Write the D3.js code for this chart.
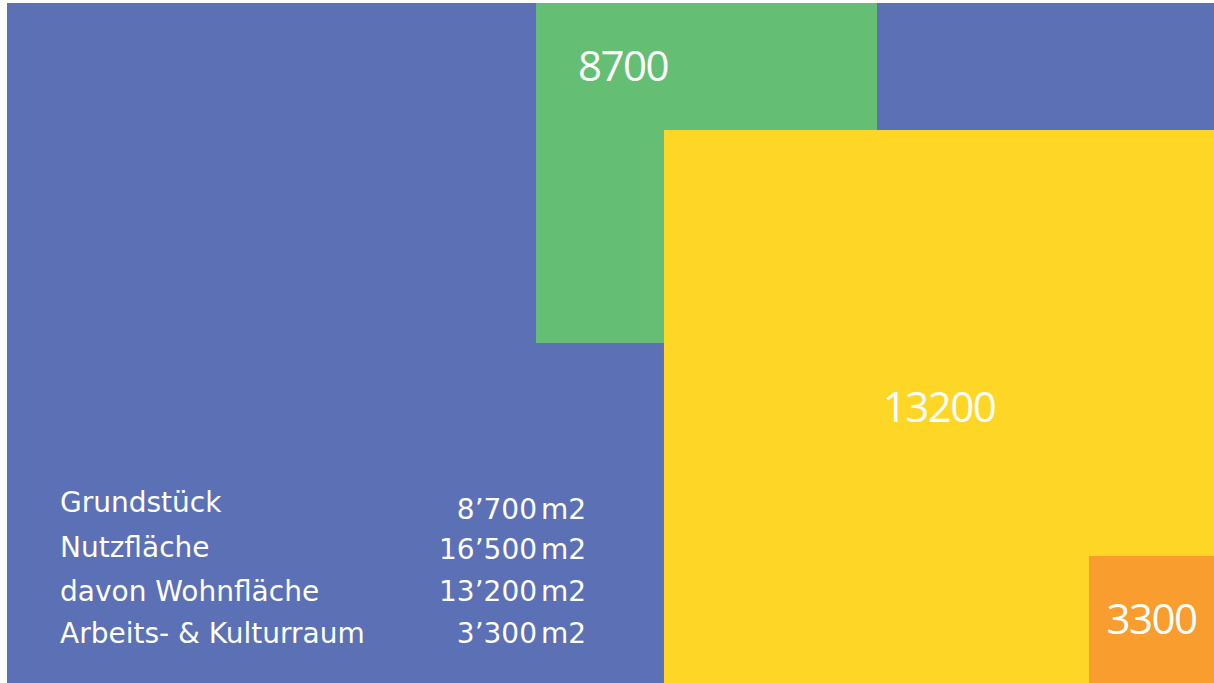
<!DOCTYPE html>
<html lang="de">
<head>
<meta charset="UTF-8">
<title>Flächen</title>
<script src="https://d3js.org/d3.v7.min.js"></script>
<style>
    body { margin: 0; background: #fff; }
    .legend text { font-family: "DejaVu Sans", sans-serif; font-size: 28px; fill: #fff; }
    .legend .val { word-spacing: -5px; }
    .blocklabel { font-family: "Open Sans", sans-serif; font-size: 42px; fill: #fff; letter-spacing: -1.5px; }
</style>
</head>
<body>
<svg width="1214" height="683"></svg>
<script>
// data
var areaNames = ["Grundstück", "Nutzfläche", "davon Wohnfläche", "Arbeits- & Kulturraum"];
var areaValues = [8700, 16500, 13200, 3300];

// which areas are drawn as blocks (back to front), and which show their number
var blockNames = ["Nutzfläche", "Grundstück", "davon Wohnfläche", "Arbeits- & Kulturraum"];
var blockColors = ["#5c70b5", "#64be74", "#fed726", "#f99d2e"];
var blockShowLabel = [false, true, true, true];

// block frames in percent of the drawing area
var blockFrames = [
    [0, 100, 0, 100],
    [43.83, 72.08, 0, 50],
    [54.43, 100, 18.68, 100],
    [89.64, 100, 81.32, 100]
];

var svg = d3.select("svg"),
    width = +svg.attr("width"),
    height = +svg.attr("height");

var x = d3.scaleLinear().domain([0, 100]).range([7, width]);
var y = d3.scaleLinear().domain([0, 100]).range([3, height]);

var valueOf = {};
areaNames.forEach(function (n, i) { valueOf[n] = areaValues[i]; });

var blocks = blockNames.map(function (n, i) {
    var f = blockFrames[i];
    return { name: n, value: valueOf[n], color: blockColors[i], show: blockShowLabel[i],
             x0: f[0], x1: f[1], y0: f[2], y1: f[3] };
});

svg.append("g").selectAll("rect")
    .data(blocks)
    .enter().append("rect")
    .attr("x", function (d) { return x(d.x0); })
    .attr("y", function (d) { return y(d.y0); })
    .attr("width", function (d) { return x(d.x1) - x(d.x0); })
    .attr("height", function (d) { return y(d.y1) - y(d.y0); })
    .attr("fill", function (d) { return d.color; });

// numbers on the blocks: green one sits top left, the others centred
svg.append("g").selectAll("text")
    .data(blocks.filter(function (d) { return d.show; }))
    .enter().append("text")
    .attr("class", "blocklabel")
    .attr("x", function (d) {
        return d.name === "Grundstück" ? x(d.x0) + 42 : (x(d.x0) + x(d.x1)) / 2;
    })
    .attr("y", function (d) {
        return d.name === "Grundstück" ? y(d.y0) + 78 : (y(d.y0) + y(d.y1)) / 2 + 15;
    })
    .attr("text-anchor", function (d) { return d.name === "Grundstück" ? "start" : "middle"; })
    .text(function (d) { return d.value; });

// legend table
var de = d3.formatLocale({ decimal: ".", thousands: "’", grouping: [3], currency: ["", ""] });
var fmt = de.format(",");

var row = d3.scalePoint().domain(areaNames).range([517, 643]);
var labelNudge = [-5, -2, 0, 0];

var legend = svg.append("g").attr("class", "legend");

legend.selectAll("text.lab")
    .data(areaNames)
    .enter().append("text")
    .attr("class", "lab")
    .attr("x", 60)
    .attr("y", function (d, i) { return row(d) + labelNudge[i]; })
    .text(function (d) { return d; });

legend.selectAll("text.val")
    .data(areaNames)
    .enter().append("text")
    .attr("class", "val")
    .attr("x", 586)
    .attr("y", function (d) { return row(d) + (d === areaNames[0] ? 2 : 0); })
    .attr("text-anchor", "end")
    .text(function (d) { return fmt(valueOf[d]) + " m2"; });
</script>
</body>
</html>
